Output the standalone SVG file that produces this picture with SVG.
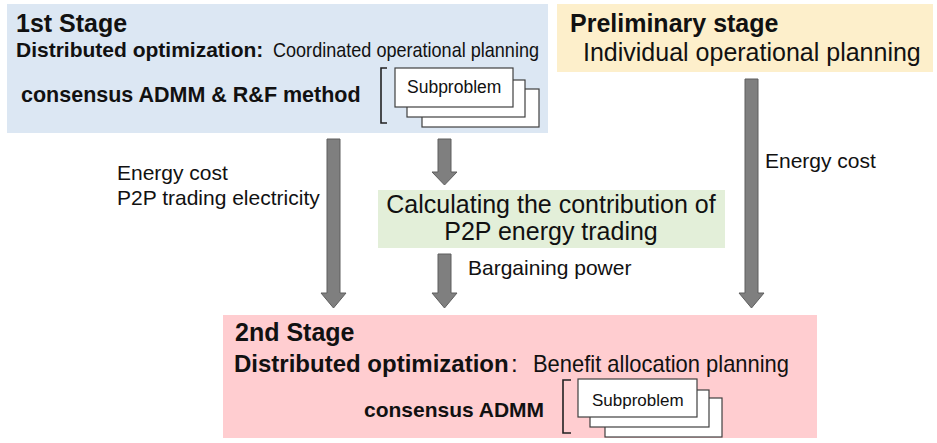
<svg xmlns="http://www.w3.org/2000/svg" width="937" height="443" viewBox="0 0 937 443">
<style>
text { font-family: "Liberation Sans", Arial, sans-serif; fill: #111; }
.b { font-weight: bold; }
.arrow { fill: #7f7f7f; stroke: #5e5e5e; stroke-width: 1; }
.sub { fill: #ffffff; stroke: #404040; stroke-width: 1.2; }
.br { fill: none; stroke: #222; stroke-width: 1.6; }
</style>
<rect width="937" height="443" fill="#ffffff"/>

<g id="stage1">
  <rect x="7" y="4" width="541" height="129" fill="#dce7f3"/>
  <text x="16" y="32" class="b" font-size="25">1st Stage</text>
  <text x="16" y="57" class="b" font-size="21">Distributed optimization:</text>
  <text x="273" y="57" font-size="21" textLength="266" lengthAdjust="spacingAndGlyphs">Coordinated operational planning</text>
  <text x="21" y="102" class="b" font-size="21.5">consensus ADMM &amp; R&amp;F method</text>
  <path class="br" d="M387,68 H381 V123 H387"/>
  <rect class="sub" x="422" y="89" width="117" height="38"/>
  <rect class="sub" x="407" y="80" width="118" height="37"/>
  <rect class="sub" x="395" y="68" width="118" height="39"/>
  <text x="407" y="93" font-size="17.5">Subproblem</text>
</g>

<g id="preliminary">
  <rect x="557" y="4" width="376" height="68" fill="#fdefcb"/>
  <text x="570" y="32" class="b" font-size="25">Preliminary stage</text>
  <text x="583" y="61" font-size="25">Individual operational planning</text>
</g>

<g id="contribution">
  <rect x="378" y="190" width="347" height="58" fill="#e3efd9"/>
  <text x="551" y="213" font-size="25" text-anchor="middle">Calculating the contribution of</text>
  <text x="551" y="240" font-size="25" text-anchor="middle">P2P energy trading</text>
</g>

<g id="stage2">
  <rect x="223" y="315" width="594" height="123" fill="#ffcdd0"/>
  <text x="235" y="341" class="b" font-size="25">2nd Stage</text>
  <text x="234" y="372" class="b" font-size="24">Distributed optimization</text>
  <text x="511" y="372" font-size="24">:</text>
  <text x="533" y="372" font-size="24" textLength="256" lengthAdjust="spacingAndGlyphs">Benefit allocation planning</text>
  <text x="364" y="417" class="b" font-size="21">consensus ADMM</text>
  <path class="br" d="M571,380 H563 V433 H571"/>
  <rect class="sub" x="605" y="398" width="117" height="39"/>
  <rect class="sub" x="590" y="390" width="119" height="37"/>
  <rect class="sub" x="578" y="379" width="119" height="38"/>
  <text x="592" y="406" font-size="17">Subproblem</text>
</g>

<g id="connectors">
  <path class="arrow" d="M327,139 H340 V293 H346 L333.5,308 L321,293 H327 Z"/>
  <path class="arrow" d="M438,139 H451 V172 H457 L444.5,185 L432,172 H438 Z"/>
  <path class="arrow" d="M438,254 H451 V293 H457 L444.5,308 L432,293 H438 Z"/>
  <path class="arrow" d="M745,79 H758 V293 H764 L751.5,308 L739,293 H745 Z"/>
  <text x="117" y="180" font-size="21">Energy cost</text>
  <text x="117" y="205" font-size="21">P2P trading electricity</text>
  <text x="765" y="168" font-size="21">Energy cost</text>
  <text x="468" y="275" font-size="21">Bargaining power</text>
</g>
</svg>
